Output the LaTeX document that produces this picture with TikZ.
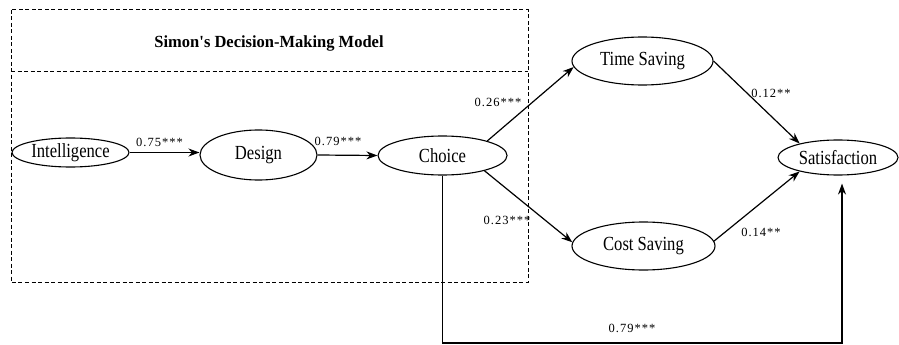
\documentclass[tikz,border=0pt]{standalone}
\usepackage{fontspec}
\setmainfont{Liberation Serif}
\newfontfamily\nodefont[FakeStretch=0.83]{Liberation Serif}
\newfontfamily\labfont[LetterSpace=8]{Liberation Serif}
\newfontfamily\titlefont[FakeStretch=0.97]{Liberation Serif}
\usetikzlibrary{shapes.geometric,arrows.meta}
\begin{document}
\begin{tikzpicture}[x=1pt,y=-1pt,
  ell/.style={ellipse,draw,line width=1.1pt,inner sep=0pt,font=\nodefont\fontsize{20}{22}\selectfont},
  conn/.style={line width=1.2pt,-{Stealth[length=11pt,width=8pt,inset=3.5pt]}},
  lab/.style={font=\labfont\fontsize{12.5}{14}\selectfont,inner sep=0pt},
  dbox/.style={line width=1pt,dash pattern=on 4pt off 2.5pt}]

\useasboundingbox (0,0) rectangle (899,345);

% dashed frame of Simon's model
\draw[dbox] (11,10) rectangle (528,282);
\draw[dbox] (11,71) -- (528,71);
\node[font=\titlefont\bfseries\fontsize{17}{20}\selectfont] (title) at (269,43) {Simon\textquotesingle s Decision-Making Model};

% nodes
\node[ell,minimum width=117pt,minimum height=29pt] (int) at (70.5,152.5) {Intelligence};
\node[ell,minimum width=117pt,minimum height=50pt] (des) at (258.5,155) {Design};
\node[ell,minimum width=129pt,minimum height=39pt] (cho) at (442.5,155.5) {Choice};
\node[ell,minimum width=141pt,minimum height=48pt] (ts) at (642.5,61) {Time Saving};
\node[ell,minimum width=143pt,minimum height=48pt] (cs) at (643.5,246) {Cost Saving};
\node[ell,minimum width=120pt,minimum height=35pt] (sat) at (838,157.5) {Satisfaction};

% connectors
\draw[conn] (int.east) -- (int.east -| des.west);
\draw[conn] (des.east) -- (cho.west);
\draw[conn] (cho.18) -- (ts.185);
\draw[conn] (cho.-20) -- (cs.177);
\draw[conn] (ts.east) -- (sat.160);
\draw[conn] (cs.4) -- (sat.200);
\coordinate (low) at (443,343);
\draw[conn] (cho.south) -- (cho.south |- low) -| ([xshift=4pt,yshift=-8pt]sat.south);

% labels
\node[lab] (l1) at (159.5,142) {0.75***};
\node[lab] (l2) at (338,141) {0.79***};
\node[lab] (l3) at (498,102) {0.26***};
\node[lab] (l4) at (507,220) {0.23***};
\node[lab] (l5) at (771,93) {0.12**};
\node[lab] (l6) at (761,232) {0.14**};
\node[lab] (l7) at (632,328) {0.79***};
\end{tikzpicture}
\end{document}
